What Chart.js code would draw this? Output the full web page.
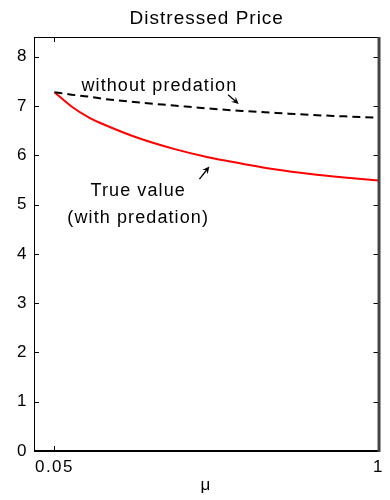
<!DOCTYPE html>
<html><head><meta charset="utf-8">
<script src="https://cdn.jsdelivr.net/npm/chart.js@4/dist/chart.umd.min.js"></script>
<style>html,body{margin:0;padding:0;background:#fff}#wrap{width:390px;height:500px;position:relative}</style>
</head><body><div id="wrap"><canvas id="c"></canvas></div>
<script>
// ---- data ----
const titleText = 'Distressed Price';
const xAxisLabel = 'μ';
const muValues         = [0.05, 0.1,  0.15, 0.2,  0.3,  0.4,  0.5,  0.6,  0.7,  0.8,  0.9,  1.0];
const trueValue        = [7.28, 6.99, 6.77, 6.61, 6.34, 6.13, 5.96, 5.83, 5.71, 5.62, 5.55, 5.49];
const withoutPredation = [7.28, 7.23, 7.19, 7.14, 7.07, 7.01, 6.95, 6.90, 6.86, 6.82, 6.79, 6.76];
const xTickValues = [0.05, 1];
const yTickValues = [0, 1, 2, 3, 4, 5, 6, 7, 8];
const labelTexts = ['without predation', 'True value', '(with predation)'];
// annotation anchors (data coordinates)
const labelAnchors = [[0.356, 7.41], [0.294, 5.265], [0.294, 4.73]];
const arrowFrom = [[0.559, 7.23], [0.475, 5.517]];
const arrowTo   = [[0.590, 7.04], [0.504, 5.77]];

const FONT = '"Liberation Sans", Arial, Helvetica, sans-serif';

function toXY(xs, ys){ return xs.map((x,i)=>({x:x, y:ys[i]})); }

const spacingPlugin = {
  id:'spacing',
  beforeLayout(chart){ chart.ctx.letterSpacing = '1.5px'; },
  beforeDraw(chart){ chart.ctx.letterSpacing = '1.5px'; }
};

const framePlugin = {
  id:'frame',
  afterDatasetsDraw(chart){
    const {ctx, chartArea:a, scales:{x, y}} = chart;
    ctx.save();
    // ticks (inward, both sides)
    ctx.strokeStyle = '#000'; ctx.lineWidth = 1;
    const tl = 5;
    yTickValues.forEach(v=>{
      const py = Math.round(y.getPixelForValue(v)) + 0.5;
      ctx.beginPath(); ctx.moveTo(a.left, py); ctx.lineTo(a.left+tl, py); ctx.stroke();
      ctx.beginPath(); ctx.moveTo(a.right, py); ctx.lineTo(a.right-tl, py); ctx.stroke();
    });
    xTickValues.forEach(v=>{
      const px = Math.round(x.getPixelForValue(v)) + 0.5;
      ctx.beginPath(); ctx.moveTo(px, a.bottom); ctx.lineTo(px, a.bottom-tl); ctx.stroke();
      ctx.beginPath(); ctx.moveTo(px, a.top); ctx.lineTo(px, a.top+tl); ctx.stroke();
    });
    // box
    ctx.beginPath(); ctx.moveTo(a.left, a.top+0.5); ctx.lineTo(a.right, a.top+0.5); ctx.stroke();
    ctx.beginPath(); ctx.moveTo(a.left+0.5, a.top); ctx.lineTo(a.left+0.5, a.bottom); ctx.stroke();
    ctx.lineWidth = 2;
    ctx.beginPath(); ctx.moveTo(a.left, a.bottom); ctx.lineTo(a.right+1, a.bottom); ctx.stroke();
    ctx.strokeStyle = '#444'; ctx.lineWidth = 3;
    ctx.beginPath(); ctx.moveTo(a.right+0.5, a.top); ctx.lineTo(a.right+0.5, a.bottom+1); ctx.stroke();

    // title
    ctx.fillStyle = '#000';
    ctx.letterSpacing = '1px';
    ctx.font = '19px ' + FONT;
    ctx.textAlign = 'center'; ctx.textBaseline = 'middle';
    ctx.fillText(titleText, (a.left + a.right)/2 + 0.5, 19);

    // annotation labels
    ctx.letterSpacing = '1.1px';
    ctx.font = '18px ' + FONT;
    labelTexts.forEach((t,i)=>{
      ctx.fillText(t, x.getPixelForValue(labelAnchors[i][0]) + 0.5, y.getPixelForValue(labelAnchors[i][1]));
    });
    // arrows
    ctx.strokeStyle = '#000'; ctx.fillStyle = '#000'; ctx.lineWidth = 1.3;
    arrowFrom.forEach((f,i)=>{
      const x0 = x.getPixelForValue(f[0]), y0 = y.getPixelForValue(f[1]);
      const x1 = x.getPixelForValue(arrowTo[i][0]), y1 = y.getPixelForValue(arrowTo[i][1]);
      const ang = Math.atan2(y1-y0, x1-x0);
      const hl = 8, hw = 0.45;
      ctx.beginPath(); ctx.moveTo(x0,y0); ctx.lineTo(x1 - 3*Math.cos(ang), y1 - 3*Math.sin(ang)); ctx.stroke();
      ctx.beginPath();
      ctx.moveTo(x1, y1);
      ctx.lineTo(x1 - hl*Math.cos(ang-hw), y1 - hl*Math.sin(ang-hw));
      ctx.lineTo(x1 - hl*0.55*Math.cos(ang), y1 - hl*0.55*Math.sin(ang));
      ctx.lineTo(x1 - hl*Math.cos(ang+hw), y1 - hl*Math.sin(ang+hw));
      ctx.closePath(); ctx.fill();
    });
    ctx.restore();
  }
};

new Chart(document.getElementById('c'), {
  type:'line',
  data:{
    datasets:[
      { label:'without predation', data: toXY(muValues, withoutPredation),
        borderColor:'#000', borderWidth:2, borderDash:[8,5], pointRadius:0,
        cubicInterpolationMode:'monotone', fill:false },
      { label:'True value (with predation)', data: toXY(muValues, trueValue),
        borderColor:'#ff0000', borderWidth:2, pointRadius:0,
        cubicInterpolationMode:'monotone', fill:false }
    ]
  },
  options:{
    responsive:true, maintainAspectRatio:false, animation:false,
    devicePixelRatio:1,
    layout:{ padding:{ top:37, right:8, left:0, bottom:0 } },
    plugins:{ legend:{display:false}, tooltip:{enabled:false}, title:{display:false} },
    scales:{
      x:{ type:'linear', min:-0.01, max:1,
        grid:{display:false, drawTicks:false}, border:{display:false},
        afterBuildTicks(s){ s.ticks = xTickValues.map(v=>({value:v})); },
        afterFit(s){ s.height = 49; },
        ticks:{ color:'#000', padding:6, maxRotation:0, autoSkip:false,
          font:{ family:FONT, size:17 }, callback:(v)=>String(v) },
        title:{ display:true, text:xAxisLabel, color:'#000', font:{family:FONT, size:17}, padding:{top:0, bottom:4} }
      },
      y:{ type:'linear', min:0, max:8.4,
        grid:{display:false, drawTicks:false}, border:{display:false},
        afterBuildTicks(s){ s.ticks = yTickValues.map(v=>({value:v})); },
        afterFit(s){ s.width = 34; },
        ticks:{ color:'#000', padding:6, autoSkip:false,
          font:{ family:FONT, size:17 }, callback:(v)=>String(v) }
      }
    }
  },
  plugins:[spacingPlugin, framePlugin]
});
</script>
</body></html>
